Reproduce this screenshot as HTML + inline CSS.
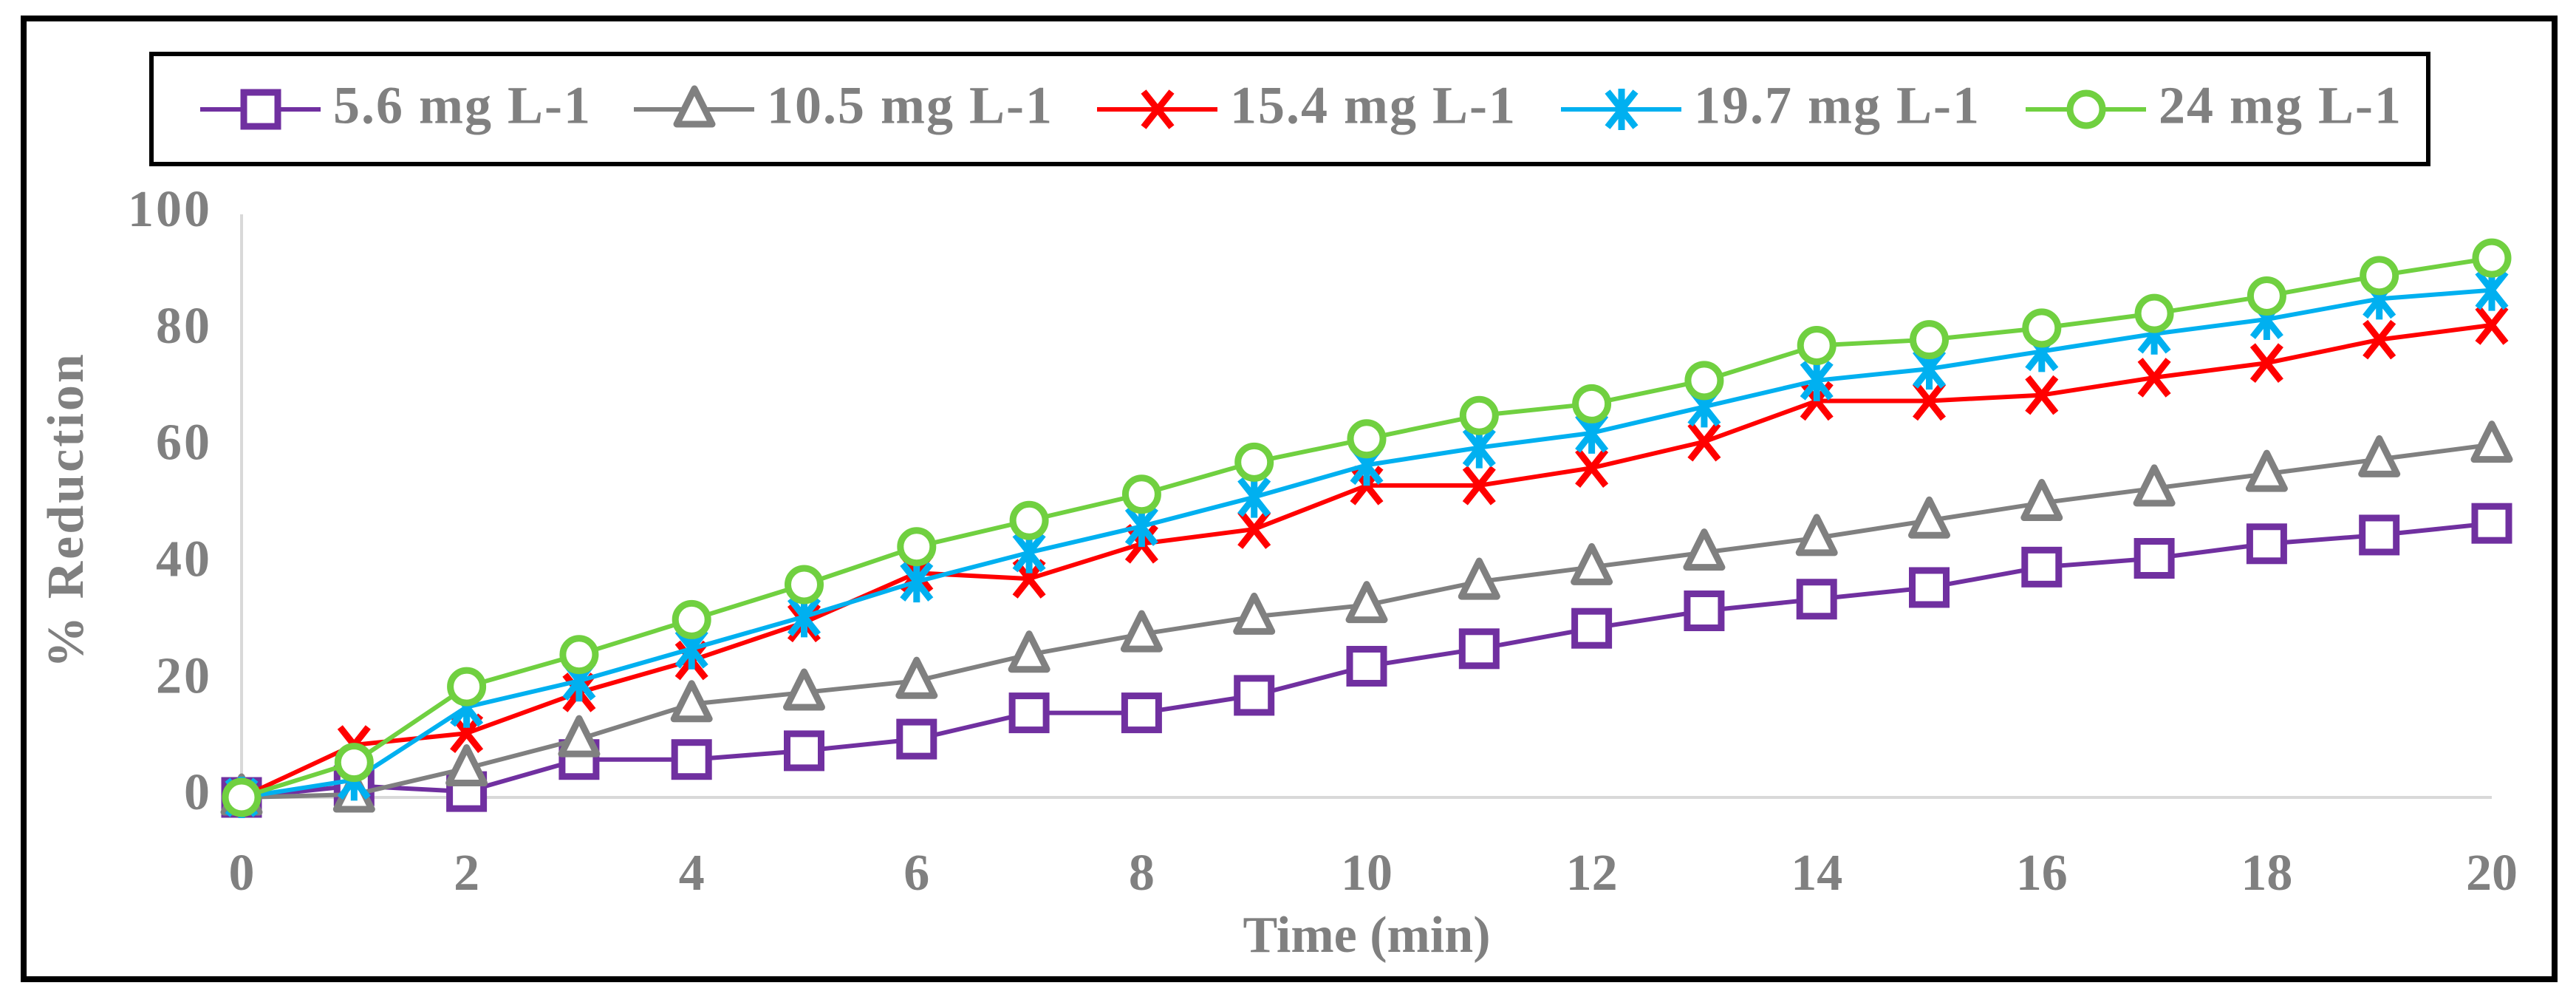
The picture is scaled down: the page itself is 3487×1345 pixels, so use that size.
<!DOCTYPE html>
<html><head><meta charset="utf-8"><style>
html,body{margin:0;padding:0;background:#fff}
svg{display:block}
text{font-family:"Liberation Serif",serif;font-weight:bold;fill:#808080}
</style></head><body>
<svg width="3487" height="1345" viewBox="0 0 3487 1345">
<rect x="32" y="25" width="3426" height="1300" fill="none" stroke="#000" stroke-width="8"/>
<rect x="205" y="73" width="3082" height="149" fill="none" stroke="#000" stroke-width="6"/>
<g id="legend"></g>
<line x1="327" y1="290" x2="327" y2="1079" stroke="#d9d9d9" stroke-width="4"/>
<line x1="327" y1="1079" x2="3373" y2="1079" stroke="#d9d9d9" stroke-width="4"/>
<g id="yticks"></g>
<g id="xticks"></g>
<text x="96" y="690" font-size="70" letter-spacing="3" text-anchor="middle" dominant-baseline="middle" transform="rotate(-90 96 690)">% Reduction</text>
<text x="1850" y="1272" font-size="70" text-anchor="middle" dominant-baseline="middle">Time (min)</text>
<g id="series"></g>
</svg>
<script>
const times=[0,1,2,3,4,5,6,7,8,9,10,11,12,13,14,15,16,17,18,19,20];
const s56=[0,2,1,6.5,6.5,8,10,14.5,14.5,17.5,22.5,25.5,29,32,34,36,39.5,41,43.5,45,47];
const s105=[0,0.5,5,10,16,18,20,24.5,28,31,33,37,39.5,42,44.5,47.5,50.5,53,55.5,58,60.5];
const s154=[0,9,11,18,23.5,30,38.5,37.5,43.5,46,53.5,53.5,56.5,61,68,68,69,72,74.5,78.5,81];
const s197=[0,3,15.5,20,25.5,31,37,42,46.5,51.5,57,60,62.5,67,71.5,73.5,76.5,79.5,82,85.5,87];
const s24=[0,6,19,24.5,30.5,36.5,43,47.5,52,57.5,61.5,65.5,67.5,71.5,77.5,78.5,80.5,83,86,89.5,92.5];
const seriesNames=["5.6 mg L-1","10.5 mg L-1","15.4 mg L-1","19.7 mg L-1","24 mg L-1"];
const yTicks=[0,20,40,60,80,100];
const xTicks=[0,2,4,6,8,10,12,14,16,18,20];

const NS="http://www.w3.org/2000/svg";
const X=v=>327+v*(3373-327)/20;
const Y=v=>1079-v*(1079-290)/100;
function mk(tag,attrs,parent){const e=document.createElementNS(NS,tag);for(const k in attrs)e.setAttribute(k,attrs[k]);parent.appendChild(e);return e;}

const yg=document.getElementById('yticks');
yTicks.forEach(v=>{const t=mk('text',{x:287,y:Y(v),'font-size':70,'letter-spacing':3,'text-anchor':'end','dominant-baseline':'middle'},yg);


t.textContent=v;});
const xg=document.getElementById('xticks');
xTicks.forEach(v=>{const t=mk('text',{x:X(v),y:1188,'font-size':70,'text-anchor':'middle','dominant-baseline':'middle'},xg);


t.textContent=v;});

const colors=["#7030a0","#808080","#ff0000","#00b0f0","#70d040"];
const types=["square","triangle","x","star","circle"];
function marker(type,cx,cy,col,g){
  const sw=9;
  if(type==="square")return mk('rect',{x:cx-23,y:cy-23,width:46,height:46,fill:"#fff",stroke:col,'stroke-width':sw},g);
  if(type==="triangle")return mk('polygon',{points:`${cx},${cy-28} ${cx+24},${cy+20} ${cx-24},${cy+20}`,fill:"#fff",stroke:col,'stroke-width':sw,'stroke-linejoin':'round'},g);
  if(type==="circle")return mk('circle',{cx:cx,cy:cy,r:22,fill:"#fff",stroke:col,'stroke-width':sw},g);
  if(type==="x")return mk('path',{d:`M${cx-19} ${cy-24}L${cx+19} ${cy+24}M${cx+19} ${cy-24}L${cx-19} ${cy+24}`,stroke:col,'stroke-width':sw,fill:"none"},g);
  return mk('path',{d:`M${cx-19} ${cy-24}L${cx+19} ${cy+24}M${cx+19} ${cy-24}L${cx-19} ${cy+24}M${cx} ${cy-28}L${cx} ${cy+28}`,stroke:col,'stroke-width':sw,fill:"none"},g);
}
const sg=document.getElementById('series');
[s56,s105,s154,s197,s24].forEach((arr,i)=>{
  const g=mk('g',{},sg);
  
  
  const d=arr.map((v,j)=>(j?'L':'M')+X(times[j])+' '+Y(v)).join('');
  const p=mk('path',{d:d,fill:'none',stroke:colors[i],'stroke-width':6,'stroke-linejoin':'round'},g);
  
  
  arr.forEach((v,j)=>{const m=marker(types[i],X(times[j]),Y(v),colors[i],g);
    
    });
});
const lg=document.getElementById('legend');
const lx=[271,858,1485,2113,2742];
seriesNames.forEach((n,i)=>{
  const g=mk('g',{},lg);
  
  
  mk('line',{x1:lx[i],y1:148,x2:lx[i]+163,y2:148,stroke:colors[i],'stroke-width':6},g);
  marker(types[i],lx[i]+82,148,colors[i],g);
  const t=mk('text',{x:lx[i]+180,y:150,'font-size':72,'letter-spacing':2,'dominant-baseline':'middle'},g);
  t.textContent=n;
});
</script>
</body></html>
